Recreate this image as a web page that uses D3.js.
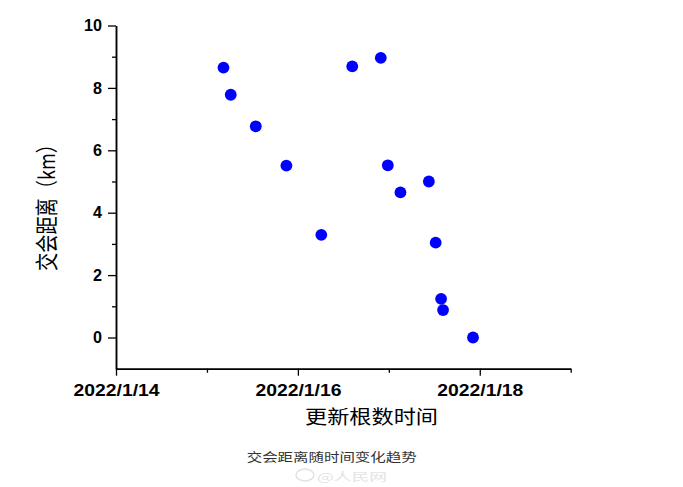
<!DOCTYPE html>
<html><head><meta charset="utf-8">
<script src="https://cdn.jsdelivr.net/npm/d3@7"></script>
<style>
html,body{margin:0;padding:0;background:#fff;}
svg{display:block;}
</style></head>
<body>
<svg id="c" width="683" height="487"></svg>
<script>
(function(){
// Data
const updateTimes = [
  "2022-01-15T04:22","2022-01-15T06:17","2022-01-15T12:53","2022-01-15T20:58",
  "2022-01-16T06:11","2022-01-16T14:21","2022-01-16T21:53","2022-01-16T23:44",
  "2022-01-17T03:04","2022-01-17T10:34","2022-01-17T12:22","2022-01-17T13:48",
  "2022-01-17T14:19","2022-01-17T22:13"
];
const distances = [8.65,7.78,6.77,5.51,3.29,8.69,8.96,5.52,4.65,5.00,3.04,1.24,0.88,0.00];
const yMajorTicks = [0,2,4,6,8,10];
const yMinorTicks = [1,3,5,7,9];
const xMajorTicks = ["2022-01-14","2022-01-16","2022-01-18"];
const xMinorTicks = ["2022-01-15","2022-01-17","2022-01-19"];
const xDomain = ["2022-01-14","2022-01-19"];
const yDomain = [-1,10];
const yTitle = "交会距离（km）";
const xTitle = "更新根数时间";
const caption = "交会距离随时间变化趋势";
const watermark = "@人民网";

const parse = d3.timeParse("%Y-%m-%dT%H:%M");
const parseD = d3.timeParse("%Y-%m-%d");
const data = updateTimes.map((t,i)=>({t:parse(t), v:distances[i]}));

const svg = d3.select("#c");
const mLeft = 116, mRight = 570.7, mTop = 25.5, mBottom = 368.7;

const x = d3.scaleTime().domain(xDomain.map(parseD)).range([mLeft,mRight]);
const y = d3.scaleLinear().domain(yDomain).range([mBottom,mTop]);

const fmt = d3.timeFormat("%Y/%-m/%-d");

// X axis
const gx = svg.append("g").attr("transform",`translate(0,${mBottom})`);
gx.call(d3.axisBottom(x).tickValues(xMajorTicks.map(parseD)).tickFormat(fmt).tickSize(7).tickSizeOuter(0).tickPadding(5));
gx.append("g").call(d3.axisBottom(x).tickValues(xMinorTicks.map(parseD)).tickFormat("").tickSize(4).tickSizeOuter(0));
// Y axis
const gy = svg.append("g").attr("transform",`translate(${mLeft},0)`);
gy.call(d3.axisLeft(y).tickValues(yMajorTicks).tickSize(8).tickSizeOuter(0).tickPadding(6));
gy.append("g").call(d3.axisLeft(y).tickValues(yMinorTicks).tickFormat("").tickSize(4).tickSizeOuter(0));

svg.selectAll(".domain").attr("stroke","#000").attr("stroke-width",1.5);
svg.selectAll(".tick line").attr("stroke","#000").attr("stroke-width",1.3);
svg.selectAll(".tick text").attr("fill","#000")
  .style("font-family","'Liberation Sans', Arial, sans-serif")
  .style("font-weight","bold");
gx.selectAll(".tick text").style("font-size","16.5px").attr("dy","0.95em")
  .attr("textLength",86).attr("lengthAdjust","spacingAndGlyphs");
gy.selectAll(".tick text").style("font-size","16px")
  .each(function(){ const n=this.textContent.length; d3.select(this).attr("textLength", n*9).attr("lengthAdjust","spacingAndGlyphs"); });

// Points
svg.append("g").selectAll("circle").data(data).join("circle")
  .attr("cx",d=>x(d.t)).attr("cy",d=>y(d.v)).attr("r",5.9).attr("fill","#0000ff");

// Titles
svg.append("text").attr("x",371.5).attr("y",424).attr("text-anchor","middle")
  .style("font-family","'Noto Sans CJK SC', sans-serif").style("font-size","19px").attr("fill","#000")
  .attr("textLength",133).attr("lengthAdjust","spacingAndGlyphs")
  .text(xTitle);
svg.append("text").attr("transform","translate(55,203) rotate(-90) scale(1,1.18)").attr("text-anchor","middle")
  .style("font-family","'Noto Sans CJK SC', sans-serif").style("font-size","19px").attr("fill","#000")
  .attr("textLength",136).attr("lengthAdjust","spacingAndGlyphs")
  .text(yTitle);

// Caption
svg.append("text").attr("x",331.7).attr("y",462).attr("text-anchor","middle")
  .style("font-family","'Noto Sans CJK SC', sans-serif").style("font-size","12.5px").attr("fill","#333")
  .attr("textLength",170).attr("lengthAdjust","spacingAndGlyphs")
  .text(caption);
svg.append("ellipse").attr("cx",305).attr("cy",475).attr("rx",9).attr("ry",6)
  .attr("fill","none").attr("stroke","#e2e2e2").attr("stroke-width",1.5);
svg.append("text").attr("x",352).attr("y",481).attr("text-anchor","middle")
  .style("font-family","'Noto Sans CJK SC', sans-serif").style("font-size","11px").attr("fill","#e4e4e4")
  .attr("textLength",70).attr("lengthAdjust","spacingAndGlyphs")
  .text(watermark);
})();
</script>
</body></html>
